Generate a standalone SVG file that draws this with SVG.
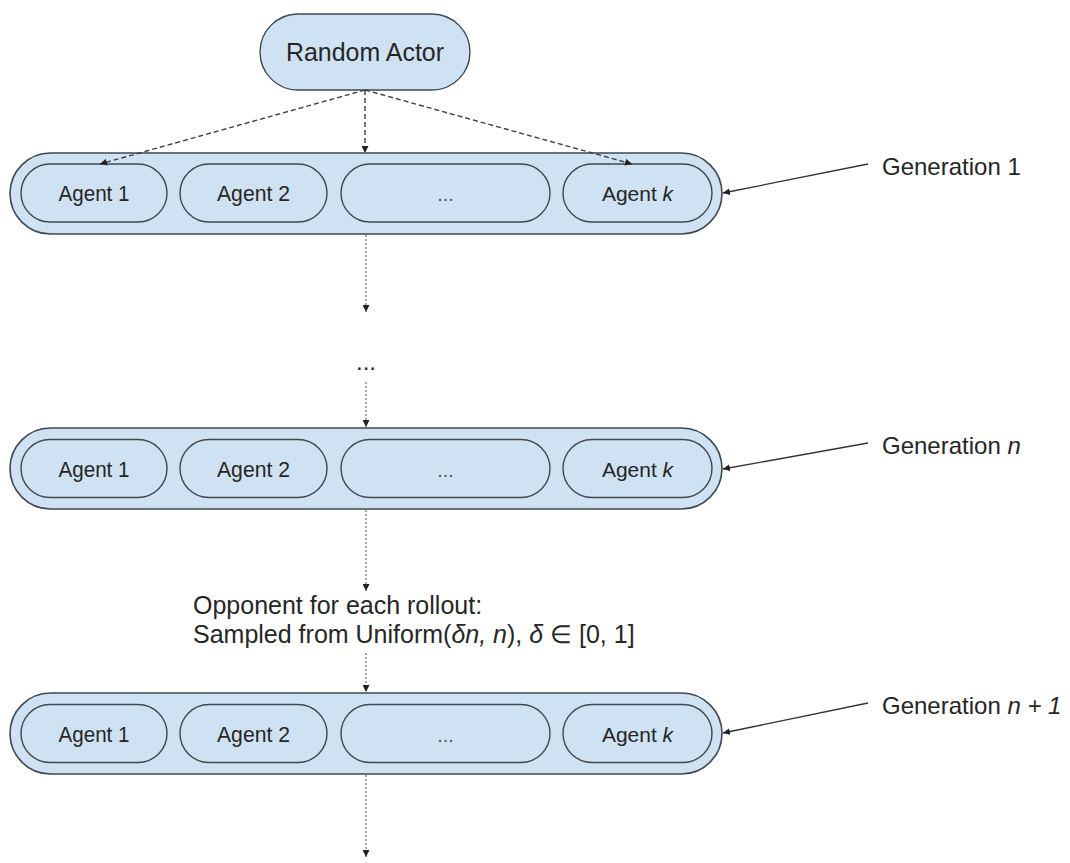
<svg xmlns="http://www.w3.org/2000/svg" width="1070" height="863" viewBox="0 0 1070 863">
<defs>
<style>
text{font-family:"Liberation Sans",Arial,sans-serif;fill:#262626}
.box{fill:#cfe2f3;stroke:#3f4850;stroke-width:1.4}
.cont{fill:#cfe2f3;stroke:#3f4850;stroke-width:1.6}
.agent{font-size:22px;text-anchor:middle}
.agentk{font-size:21px;text-anchor:middle}
.dots{font-size:20px;text-anchor:middle;fill:#555}
.gen{font-size:24px}
.dash{fill:none;stroke:#404040;stroke-width:1.4;stroke-dasharray:5 3}
.dot{fill:none;stroke:#7a7a7a;stroke-width:1.3;stroke-dasharray:2 2}
.lead{fill:none;stroke:#333;stroke-width:1.3}
</style>
<marker id="ah" markerUnits="userSpaceOnUse" markerWidth="8" markerHeight="7" refX="7" refY="3.5" orient="auto">
<path d="M0,0 L7,3.5 L0,7 z" fill="#222"/>
</marker>
</defs>
<rect width="1070" height="863" fill="#fff"/>

<g id="random-actor">
<rect class="box" x="260" y="14" width="210" height="76" rx="38"/>
<text x="365" y="61" font-size="25" text-anchor="middle" textLength="158" lengthAdjust="spacingAndGlyphs">Random Actor</text>
</g>

<g id="generation-1">
<rect class="cont" x="10" y="153" width="712" height="81" rx="40.5"/>
<rect class="box" x="21" y="164" width="146" height="58" rx="29"/>
<rect class="box" x="180" y="164" width="147" height="58" rx="29"/>
<rect class="box" x="341" y="164" width="209" height="58" rx="29"/>
<rect class="box" x="563" y="164" width="149" height="58" rx="29"/>
<text class="agent" x="94" y="201" textLength="71" lengthAdjust="spacingAndGlyphs">Agent 1</text>
<text class="agent" x="253.5" y="201" textLength="73" lengthAdjust="spacingAndGlyphs">Agent 2</text>
<text class="dots" x="445.5" y="201">...</text>
<text class="agentk" x="637.5" y="201">Agent <tspan font-style="italic">k</tspan></text>
</g>

<g id="generation-n">
<rect class="cont" x="10" y="428" width="712" height="81" rx="40.5"/>
<rect class="box" x="21" y="439.5" width="146" height="58" rx="29"/>
<rect class="box" x="180" y="439.5" width="147" height="58" rx="29"/>
<rect class="box" x="341" y="439.5" width="209" height="58" rx="29"/>
<rect class="box" x="563" y="439.5" width="149" height="58" rx="29"/>
<text class="agent" x="94" y="476.5" textLength="71" lengthAdjust="spacingAndGlyphs">Agent 1</text>
<text class="agent" x="253.5" y="476.5" textLength="73" lengthAdjust="spacingAndGlyphs">Agent 2</text>
<text class="dots" x="445.5" y="476.5">...</text>
<text class="agentk" x="637.5" y="476.5">Agent <tspan font-style="italic">k</tspan></text>
</g>

<g id="generation-n1">
<rect class="cont" x="10" y="693" width="712" height="81" rx="40.5"/>
<rect class="box" x="21" y="704.5" width="146" height="58" rx="29"/>
<rect class="box" x="180" y="704.5" width="147" height="58" rx="29"/>
<rect class="box" x="341" y="704.5" width="209" height="58" rx="29"/>
<rect class="box" x="563" y="704.5" width="149" height="58" rx="29"/>
<text class="agent" x="94" y="741.5" textLength="71" lengthAdjust="spacingAndGlyphs">Agent 1</text>
<text class="agent" x="253.5" y="741.5" textLength="73" lengthAdjust="spacingAndGlyphs">Agent 2</text>
<text class="dots" x="445.5" y="741.5">...</text>
<text class="agentk" x="637.5" y="741.5">Agent <tspan font-style="italic">k</tspan></text>
</g>

<g id="labels">
<text class="gen" x="882" y="175">Generation 1</text>
<text class="gen" x="882" y="454">Generation <tspan font-style="italic">n</tspan></text>
<text class="gen" x="882" y="714">Generation <tspan font-style="italic">n + 1</tspan></text>
<text x="366" y="370" font-size="24" text-anchor="middle">...</text>
<text x="193" y="614" font-size="25">Opponent for each rollout:</text>
<text x="193" y="643" font-size="25">Sampled from Uniform(<tspan font-style="italic">δn, n</tspan>), <tspan font-style="italic">δ</tspan> ∈ [0, 1]</text>
</g>

<g id="connectors">
<path class="dash" d="M365,90 L100,164" marker-end="url(#ah)"/>
<path class="dash" d="M365,90 L365,153" marker-end="url(#ah)"/>
<path class="dash" d="M365,90 L632,164" marker-end="url(#ah)"/>
<path class="dot" d="M366,235 L366,312" marker-end="url(#ah)"/>
<path class="dot" d="M366,382 L366,427" marker-end="url(#ah)"/>
<path class="dot" d="M366,510 L366,591" marker-end="url(#ah)"/>
<path class="dot" d="M366,653 L366,692" marker-end="url(#ah)"/>
<path class="dot" d="M366,775 L366,857" marker-end="url(#ah)"/>
<path class="lead" d="M868,164 L723,193" marker-end="url(#ah)"/>
<path class="lead" d="M868,443 L723,469" marker-end="url(#ah)"/>
<path class="lead" d="M868,703 L723,733" marker-end="url(#ah)"/>
</g>
</svg>
